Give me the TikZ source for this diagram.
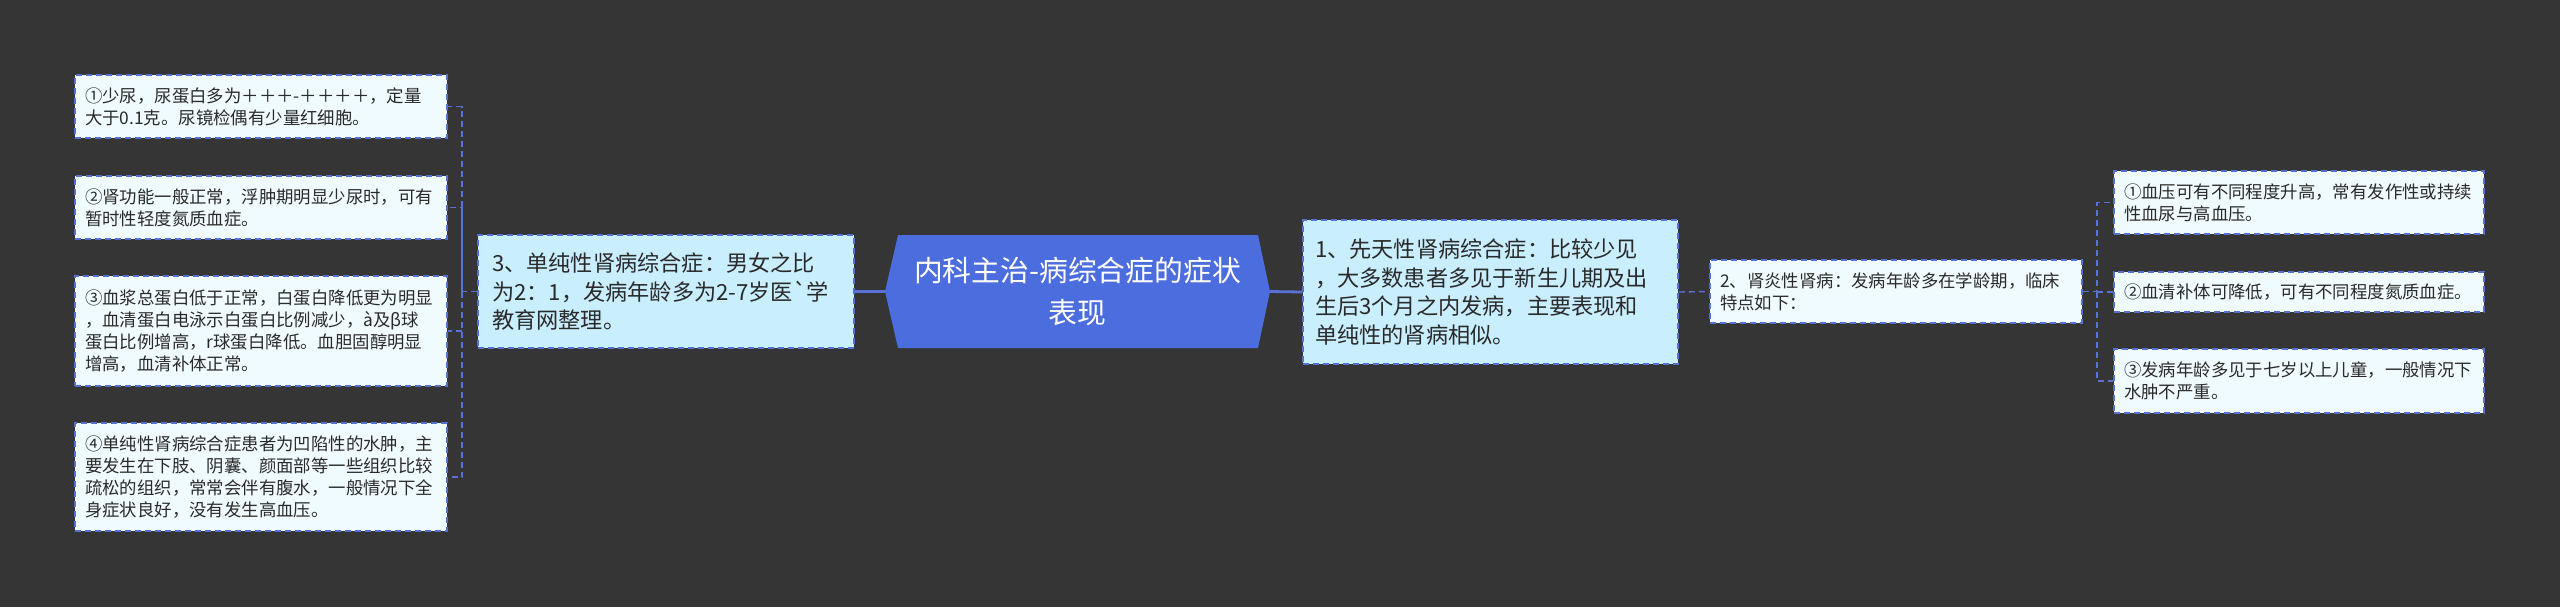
\documentclass[tikz,border=0pt]{standalone}
\usepackage{fontspec}
\setmainfont{Noto Sans CJK SC}[Ligatures=TeXOff]
\definecolor{bg}{HTML}{353535}
\definecolor{leaffill}{HTML}{F0FBFF}
\definecolor{mainfill}{HTML}{C9EEFD}
\definecolor{centerfill}{HTML}{4C6DDE}
\definecolor{bordercol}{HTML}{5470D0}
\definecolor{linecol}{HTML}{5872D8}
\definecolor{txt}{HTML}{2A2A2A}
\tikzset{
  x=0.5pt, y=-0.5pt,
  boxbase/.style={draw=bordercol, line width=0.8pt, dash pattern=on 3pt off 2pt,
    text=txt, align=left, anchor=center, inner ysep=0pt},
  leafbox/.style={boxbase, fill=leaffill, inner xsep=5pt,
    font=\fontsize{8.7pt}{10.9pt}\selectfont},
  mainbox/.style={boxbase, fill=mainfill, inner xsep=7pt,
    font=\fontsize{11.1pt}{14.2pt}\selectfont},
  leafline/.style={draw=linecol, line width=0.7pt, dash pattern=on 3pt off 2pt},
  mainline/.style={draw=linecol, line width=1.4pt},
}
\begin{document}
\begin{tikzpicture}
\fill[bg] (0,0) rectangle (2560,607);
\useasboundingbox (0,0) rectangle (2560,607);

% left leaves
\node[leafbox, text width=176pt, minimum height=31.5pt] (l1) at (261,106.5)
  {①少尿，尿蛋白多为＋＋＋-＋＋＋＋，定量\\大于0.1克。尿镜检偶有少量红细胞。};
\node[leafbox, text width=176pt, minimum height=31.5pt] (l2) at (261,207.5)
  {②肾功能一般正常，浮肿期明显少尿时，可有\\暂时性轻度氮质血症。};
\node[leafbox, text width=176pt, minimum height=55pt] (l3) at (261,331)
  {③血浆总蛋白低于正常，白蛋白降低更为明显\\，血清蛋白电泳示白蛋白比例减少，à及β球\\蛋白比例增高，r球蛋白降低。血胆固醇明显\\增高，血清补体正常。};
\node[leafbox, text width=176pt, minimum height=54pt] (l4) at (261,477)
  {④单纯性肾病综合症患者为凹陷性的水肿，主\\要发生在下肢、阴囊、颜面部等一些组织比较\\疏松的组织，常常会伴有腹水，一般情况下全\\身症状良好，没有发生高血压。};

% node 3
\node[mainbox, text width=174pt, minimum height=56.5pt] (n3) at (666,291.5)
  {3、单纯性肾病综合症：男女之比\\为2：1，发病年龄多为2-7岁医`学\\教育网整理。};

% center
\fill[centerfill] (885,291.5) -- (898,235) -- (1258,235) -- (1270,291.5) -- (1258,348) -- (898,348) -- cycle;
\node[text=white, align=center, font=\fontsize{14.4pt}{20.8pt}\selectfont, inner sep=0pt,
  minimum width=192.5pt, minimum height=56.5pt] (c) at (1077.5,291.5)
  {内科主治-病综合症的症状\\表现};

% node 1
\node[mainbox, text width=175.5pt, inner xsep=6pt, minimum height=72pt] (n1) at (1490.5,292)
  {1、先天性肾病综合症：比较少见\\，大多数患者多见于新生儿期及出\\生后3个月之内发病，主要表现和\\单纯性的肾病相似。};

% node 2
\node[leafbox, text width=176pt, minimum height=31.5pt] (n2) at (1896,291.5)
  {2、肾炎性肾病：发病年龄多在学龄期，临床\\特点如下：};

% right leaves
\node[leafbox, text width=175pt, minimum height=31.5pt] (r1) at (2299,202.5)
  {①血压可有不同程度升高，常有发作性或持续\\性血尿与高血压。};
\node[leafbox, text width=175pt, minimum height=20pt] (r2) at (2299,292)
  {②血清补体可降低，可有不同程度氮质血症。};
\node[leafbox, text width=175pt, minimum height=32pt] (r3) at (2299,381)
  {③发病年龄多见于七岁以上儿童，一般情况下\\水肿不严重。};

% connectors
\coordinate (bl) at (462,291.5);
\coordinate (br) at (2097,291.5);
\path[leafline] (n3.west) -- (bl) |- (l1.east);
\path[leafline] (bl) |- (l2.east);
\path[leafline] (bl) |- (l3.east);
\path[leafline] (bl) |- (l4.east);
\path[mainline] (c.west -| 885,0) -- (n3.east);
\path[mainline] (c.east -| 1270,0) -- (n1.west);
\path[leafline] (n1.east) -- (n2.west);
\path[leafline] (n2.east) -- (br) |- (r1.west);
\path[leafline] (br) |- (r2.west);
\path[leafline] (br) |- (r3.west);
\end{tikzpicture}
\end{document}
